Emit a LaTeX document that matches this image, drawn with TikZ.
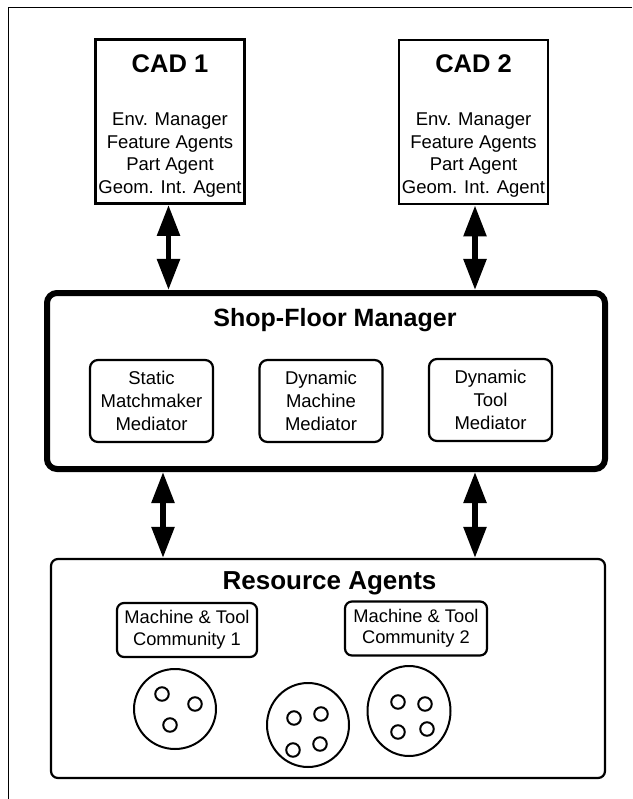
\documentclass[tikz,border=0pt]{standalone}
\usepackage{fontspec}
\setmainfont{Liberation Sans}
\usetikzlibrary{arrows.meta,shapes.geometric}
\tikzset{
  txt/.style={font=\fontsize{18.5}{22.7}\selectfont, align=center, inner sep=0pt},
  ttl/.style={font=\fontsize{25.5}{30}\selectfont\bfseries, inner sep=0pt, anchor=base},
  cadbox/.style={draw, line width=2.8pt, minimum width=149pt, minimum height=164pt, inner sep=0pt},
  medbox/.style={draw, line width=2.2pt, rounded corners=8pt, minimum width=123pt, minimum height=82pt, inner sep=0pt, txt, font=\fontsize{18.5}{23}\selectfont},
  combox/.style={draw, line width=2.2pt, rounded corners=7pt, minimum width=140pt, minimum height=54pt, inner sep=0pt, txt, font=\fontsize{18.3}{21.5}\selectfont},
  group/.style={draw, ellipse, line width=2pt, inner sep=0pt},
  agent/.style={draw, circle, line width=2pt, minimum size=13.5pt, inner sep=0pt},
  biarrow/.style={line width=5.5pt, {Triangle[length=31pt,width=22pt]}-{Triangle[length=31pt,width=22pt]}},
}
\begin{document}
\begin{tikzpicture}[x=1pt,y=-1pt]
\useasboundingbox (0,0) rectangle (632,799);
\fill[white] (0,0) rectangle (632,799);
% outer frame (partly cut off)
\draw[line width=1.8pt] (632,7.5) -- (8.5,7.5) -- (8.5,799);

% CAD boxes
\node[cadbox] (cad1) at (170,121.5) {};
\node[cadbox] (cad2) at (473.5,122) {};
\node[ttl] (cad1t) at (170,72.3) {CAD 1};
\node[ttl] (cad2t) at (473.5,72.3) {CAD 2};
\node[txt] (cad1b) at (170,155) {Env. Manager\\Feature Agents\\Part Agent\\Geom. Int. Agent};
\node[txt] (cad2b) at (473.5,155) {Env. Manager\\Feature Agents\\Part Agent\\Geom. Int. Agent};

% Shop-floor manager
\node[draw, line width=6pt, rounded corners=10pt, minimum width=558pt, minimum height=176pt, inner sep=0pt] (sfm) at (326,381) {};
\node[ttl, font=\fontsize{25}{30}\selectfont\bfseries] (sfmt) at (335,326) {Shop-Floor Manager};
\node[medbox] (m1) at (151.5,401) {Static\\Matchmaker\\Mediator};
\node[medbox] (m2) at (321,401) {Dynamic\\Machine\\Mediator};
\node[medbox] (m3) at (490.5,400) {Dynamic\\Tool\\Mediator};

% Resource agents
\node[draw, line width=2.2pt, rounded corners=7pt, minimum width=554pt, minimum height=219pt, inner sep=0pt] (ra) at (328,668.5) {};
\node[ttl, font=\fontsize{26}{30}\selectfont\bfseries] (rat) at (329.5,589.5) {Resource Agents};
\node[combox] (k1) at (187,630) {Machine \& Tool\\Community 1};
\node[combox, minimum width=142pt] (k2) at (416,628.5) {Machine \& Tool\\Community 2};

\node[group, minimum width=82pt, minimum height=80pt] (g1) at (175,709) {};
\node[group, minimum width=82pt, minimum height=84pt] (g2) at (308,725) {};
\node[group, minimum width=83pt, minimum height=90pt] (g3) at (409,711) {};

\node[agent] (a11) at (162,694) {};
\node[agent] (a12) at (195,704) {};
\node[agent] (a13) at (170,725) {};
\node[agent] (a21) at (294,718) {};
\node[agent] (a22) at (321,714) {};
\node[agent] (a23) at (293,750) {};
\node[agent] (a24) at (320,744) {};
\node[agent] (a31) at (398,702) {};
\node[agent] (a32) at (425,704) {};
\node[agent] (a33) at (398,732) {};
\node[agent] (a34) at (427,729) {};

% connectors
\coordinate (x1) at (168.5,0);
\coordinate (x2) at (475,0);
\coordinate (x3) at (163,0);
\coordinate (x4) at (475,0);
\draw[biarrow] (cad1.south -| x1) -- (sfm.north -| x1);
\draw[biarrow] (cad2.south -| x2) -- (sfm.north -| x2);
\draw[biarrow] (sfm.south -| x3) -- (ra.north -| x3);
\draw[biarrow] (sfm.south -| x4) -- (ra.north -| x4);
\end{tikzpicture}
\end{document}
